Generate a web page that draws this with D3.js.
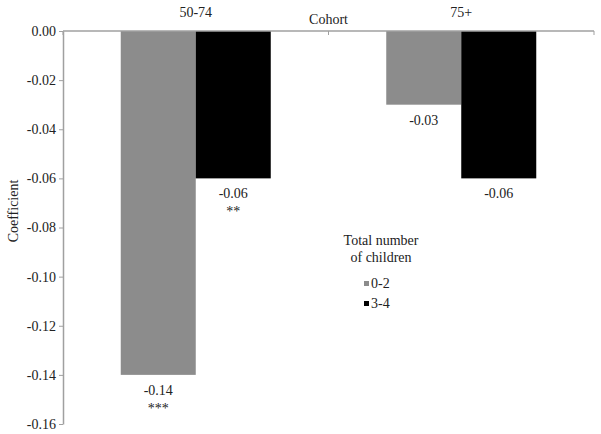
<!DOCTYPE html>
<html><head><meta charset="utf-8">
<script src="https://cdn.jsdelivr.net/npm/d3@7"></script>
<style>body{margin:0;background:#fff}svg{display:block}</style>
</head><body><svg id="c" width="601" height="434" font-family="Liberation Serif" font-size="14"></svg>
<script>
const cohorts = ["50-74", "75+"];
const groups = ["0-2", "3-4"];
const values02 = [-0.14, -0.03];
const values34 = [-0.06, -0.06];
const sig02 = ["***", ""];
const sig34 = ["**", ""];
const yTicks = [0, -0.02, -0.04, -0.06, -0.08, -0.10, -0.12, -0.14, -0.16];
const colors = ["#8c8c8c", "#000000"];
const FF = "Liberation Serif";
const TC = "#222";

const svg = d3.select("#c");
const m = {l: 63, r: 7, t: 31, b: 10};
const W = 601 - m.l - m.r, H = 424 - m.t;
const g = svg.append("g").attr("transform", `translate(${m.l},${m.t})`);

const x0 = d3.scaleBand().domain(cohorts).range([0, W]).paddingInner(0.435).paddingOuter(0.2175);
const x1 = d3.scaleBand().domain(groups).range([0, x0.bandwidth()]);
const y = d3.scaleLinear().domain([0, -0.16]).range([0, H]);

const data = cohorts.map((c, i) => ({c, vals: [
  {k: groups[0], v: values02[i], s: sig02[i]},
  {k: groups[1], v: values34[i], s: sig34[i]}]}));

function txt(sel) { return sel.attr("font-family", FF).style("font-family", FF).attr("font-size", 14).attr("fill", TC); }

const cg = g.selectAll(".cg").data(data).enter().append("g")
  .attr("transform", d => `translate(${x0(d.c)},0)`);
cg.selectAll("rect").data(d => d.vals).enter().append("rect")
  .attr("x", d => x1(d.k)).attr("width", x1.bandwidth())
  .attr("y", y(0)).attr("height", d => y(d.v) - y(0))
  .attr("fill", (d, i) => colors[i]);
cg.selectAll(".vl").data(d => d.vals).enter().append("text").call(txt)
  .attr("x", d => x1(d.k) + x1.bandwidth() / 2).attr("y", d => y(d.v) + 20)
  .attr("text-anchor", "middle").text(d => d.v.toFixed(2));
cg.selectAll(".sl").data(d => d.vals).enter().append("text").call(txt)
  .attr("x", d => x1(d.k) + x1.bandwidth() / 2).attr("y", d => y(d.v) + 38)
  .attr("text-anchor", "middle").text(d => d.s);

// y axis
const ya = g.append("g").call(d3.axisLeft(y).tickValues(yTicks).tickFormat(d3.format(".2f")).tickSize(4).tickSizeOuter(0));
ya.attr("font-family", FF).attr("font-size", 14);
ya.select(".domain").attr("stroke", "#a0a0a0").attr("stroke-width", 1.5);
ya.selectAll(".tick line").attr("stroke", "#a0a0a0");
ya.selectAll(".tick text").call(txt).attr("x", -7)
  .text(d => (d < 0 ? "-" : "") + Math.abs(d).toFixed(2));

// top x axis line with ticks at band edges
g.append("line").attr("x1", 0).attr("x2", W).attr("y1", 0).attr("y2", 0).attr("stroke", "#a0a0a0").attr("stroke-width", 1.5);
const edges = [0, W / 2, W];
g.selectAll(".xt").data(edges).enter().append("line")
  .attr("x1", d => d).attr("x2", d => d).attr("y1", 0).attr("y2", 4).attr("stroke", "#a0a0a0");
g.selectAll(".cl").data(cohorts).enter().append("text").call(txt)
  .attr("x", d => x0(d) + x0.bandwidth() / 2).attr("y", -14)
  .attr("text-anchor", "middle").text(d => d);
g.append("text").call(txt).attr("x", W / 2).attr("y", -7).attr("text-anchor", "middle").text("Cohort");

// y label
svg.append("text").call(txt).attr("transform", "translate(18,211) rotate(-90)").attr("text-anchor", "middle")
  .text("Coefficient");

// legend
const lg = svg.append("g");
lg.append("text").call(txt).attr("x", 381).attr("y", 245).attr("text-anchor", "middle").text("Total number");
lg.append("text").call(txt).attr("x", 381).attr("y", 262).attr("text-anchor", "middle").text("of children");
groups.forEach((gname, i) => {
  lg.append("rect").attr("x", 364).attr("y", 281 + i * 20).attr("width", 5).attr("height", 5).attr("fill", colors[i]);
  lg.append("text").call(txt).attr("x", 371).attr("y", 288 + i * 20).text(gname);
});
</script></body></html>
